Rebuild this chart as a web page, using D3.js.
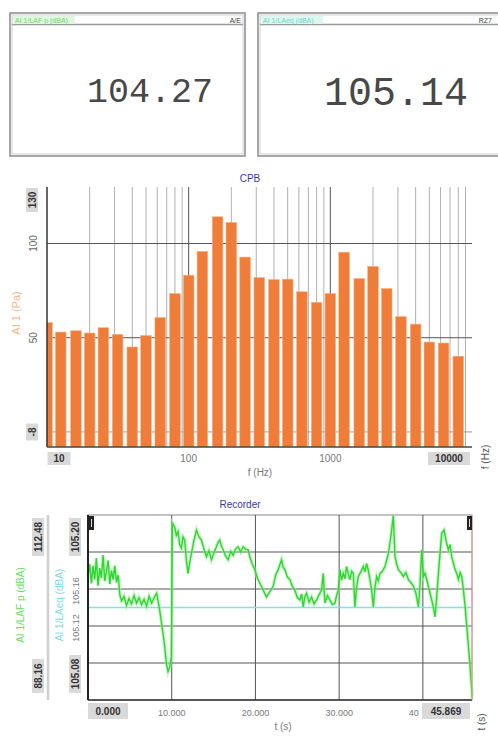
<!DOCTYPE html>
<html>
<head>
<meta charset="utf-8">
<script src="https://cdn.jsdelivr.net/npm/d3@7"></script>
<style>
  body { margin: 0; background: #fff; }
  svg { display: block; font-family: "Liberation Sans", Arial, sans-serif; }
</style>
</head>
<body>
<div id="chart"></div>
<script>
// meter readouts
const meterLabels = ['AI 1/LAF p (dBA)', 'AI 1/LAeq (dBA)'];
const meterTags = ['A/E', 'RZ7'];
const meterValues = ['104.27', '105.14'];

// CPB spectrum, 1/3 octave bands
const bandCenters = [10, 12.5, 16, 20, 25, 31.5, 40, 50, 63, 80, 100, 125, 160, 200, 250, 315,
  400, 500, 630, 800, 1000, 1250, 1600, 2000, 2500, 3150, 4000, 5000, 6300, 8000];
const bandLevels = [58, 53, 53.7, 52.5, 55.3, 51.8, 45.1, 51.2, 60.7, 73.5, 83.2, 95.8, 114.2, 111.2, 92.8, 81.9,
  80.9, 81.1, 74.4, 68.8, 73.5, 95.4, 81.4, 87.9, 76.1, 61.2, 57.2, 47.7, 47.2, 40.2];
const cpbYTicks = [100, 50];
const cpbXTicks = [100, 1000];

// recorder trace
const recTime = [0.0, 0.2, 0.4, 0.6, 0.8, 1.0, 1.2, 1.4, 1.6, 1.8, 2.0, 2.2, 2.4, 2.6, 2.8, 3.0, 3.2, 3.4, 3.6,
  3.8, 4.0, 4.3, 4.6, 4.9, 5.2, 5.5, 5.8, 6.1, 6.4, 6.7, 7.0, 7.3, 7.6, 7.9, 8.2,
  8.56, 8.96, 9.16, 9.36, 9.56, 9.76, 9.96, 10.08, 10.36, 10.55, 10.76, 10.95, 11.15, 11.35, 11.55, 11.75,
  11.95, 12.15, 12.35, 12.65, 12.95, 13.25, 13.55, 13.85, 14.15, 14.45, 14.74, 15.04, 15.34, 15.54, 15.74,
  15.94, 16.14, 16.44, 16.74, 17.04, 17.33, 17.63, 17.93, 18.23, 18.53, 18.83, 19.13, 19.33, 19.63, 19.93,
  20.23, 20.53, 20.93, 21.32, 21.72, 22.12, 22.42, 22.72, 23.12, 23.32, 23.52, 23.82, 24.11, 24.41, 24.71,
  25.01, 25.31, 25.51, 25.71, 25.91, 26.11, 26.41, 26.71, 27.0, 27.3, 27.6, 27.9, 28.1, 28.3, 28.6, 28.9,
  29.2, 29.5, 29.7, 29.9, 30.1, 30.29, 30.49, 30.69, 30.89, 31.09, 31.29, 31.49, 31.69, 31.89, 32.09, 32.29,
  32.59, 32.89, 33.08, 33.28, 33.48, 33.68, 33.88, 34.08, 34.28, 34.48, 34.68, 34.88, 35.18, 35.48, 35.68,
  35.88, 36.07, 36.27, 36.47, 36.67, 36.87, 37.07, 37.37, 37.67, 37.97, 38.27, 38.57, 38.87, 39.17, 39.47,
  39.67, 39.86, 40.06, 40.26, 40.46, 40.76, 41.06, 41.26, 41.46, 41.66, 41.86, 42.06, 42.26, 42.53, 42.79,
  43.05, 43.25, 43.45, 43.65, 43.85, 44.05, 44.25, 44.45, 44.65, 44.85, 45.05, 45.25, 45.45, 45.65, 45.84, 45.869];
const recLAF = [104.5, 106.0, 103.5, 105.8, 104.0, 106.8, 103.2, 105.5, 104.2, 107.2, 103.8, 105.0, 106.5, 103.4, 105.2, 104.0, 105.8, 103.6, 104.6,
  102.0, 101.2, 101.8, 100.6, 101.5, 100.8, 101.9, 100.9, 101.6, 100.7, 101.4, 100.5, 101.8, 100.9, 101.6, 102.2,
  100.0, 96.9, 95.2, 93.0, 91.9, 92.5, 93.9, 111.4, 110.9, 109.8, 110.3, 108.6, 108.1, 109.6, 109.2, 106.5,
  104.8, 106.2, 107.4, 109.1, 110.5, 109.6, 109.2, 108.0, 107.0, 107.8, 106.6, 107.5, 108.3, 108.9, 109.2,
  108.4, 107.9, 107.1, 106.6, 107.7, 107.2, 108.0, 108.3, 107.6, 108.3, 108.0, 107.9, 107.0, 106.0, 105.3,
  104.2, 103.5, 102.6, 101.7, 102.4, 103.1, 104.6, 105.3, 106.6, 105.6, 105.3, 104.3, 104.0, 103.1, 102.6,
  101.6, 101.3, 102.1, 100.4, 101.8, 102.2, 101.0, 101.7, 100.8, 101.3, 102.0, 102.6, 104.8, 100.9, 101.9, 101.3,
  100.7, 100.9, 101.9, 102.6, 105.3, 103.9, 104.8, 104.1, 105.7, 104.7, 104.0, 105.1, 104.8, 100.4, 103.0, 104.4,
  105.0, 105.7, 105.0, 106.1, 105.2, 104.0, 102.6, 100.4, 103.0, 104.4, 103.8, 104.8, 105.1, 105.7, 106.6,
  107.4, 108.8, 110.5, 112.4, 107.0, 106.0, 105.3, 104.9, 104.4, 104.9, 104.0, 103.6, 103.1, 102.2, 100.4,
  103.5, 107.9, 104.4, 104.8, 104.0, 102.6, 101.3, 100.3, 99.1, 101.8, 104.8, 107.6, 110.1, 110.5, 109.0,
  107.9, 108.6, 107.0, 106.1, 105.3, 104.8, 104.0, 104.9, 104.4, 102.6, 100.4, 97.8, 95.2, 92.4, 89.5, 88.5];
const recLeq = 105.14;
const recGrid = [105.104, 105.128, 105.152, 105.176];
const recCyanTicks = [105.152, 105.128];
const recCyanTickText = ['105.16', '105.12'];
const recXTicks = [10, 20, 30, 40];
const recXTickText = ['10.000', '20.000', '30.000', '40'];

const W = 498, H = 742;
const svg = d3.select('#chart').append('svg').attr('width', W).attr('height', H);

// boxed limit label, optionally rotated
function boxLabel(g, x, y, txt, w, h, rot) {
  const b = g.append('g').attr('transform', `translate(${x},${y})` + (rot ? ' rotate(-90)' : ''));
  b.append('rect').attr('x', -w / 2).attr('y', -h / 2).attr('width', w).attr('height', h).attr('fill', '#d9d9d9');
  b.append('text').attr('text-anchor', 'middle').attr('dy', '0.35em')
    .attr('font-size', 10).attr('font-weight', 'bold').attr('fill', '#333').text(txt);
}
function rotLabel(g, x, y, txt, size, color, ang) {
  g.append('text').attr('transform', `translate(${x},${y}) rotate(${ang || -90})`)
    .attr('text-anchor', 'middle').attr('dy', '0.35em')
    .attr('font-size', size).attr('fill', color).text(txt);
}

// ---------- meters ----------
const meters = [
  {x: 10, w: 235, color: '#6fd86f', bg: '#dff7df'},
  {x: 258, w: 245, color: '#6fd8c8', bg: '#ddf6f2'}
];
meters.forEach((m, i) => {
  const g = svg.append('g');
  g.append('rect').attr('x', m.x).attr('y', 13).attr('width', m.w).attr('height', 143)
    .attr('fill', '#fff').attr('stroke', '#8a8a8a').attr('stroke-width', 1.5);
  g.append('rect').attr('x', m.x + 2).attr('y', 15).attr('width', m.w - 4).attr('height', 139)
    .attr('fill', 'none').attr('stroke', '#d0d0d0');
  g.append('line').attr('x1', m.x + 2).attr('x2', m.x + m.w - 2).attr('y1', 24.5).attr('y2', 24.5)
    .attr('stroke', '#999').attr('stroke-width', 1.5);
  g.append('rect').attr('x', m.x + 3).attr('y', 16).attr('width', 62).attr('height', 8).attr('fill', m.bg);
  g.append('text').attr('x', m.x + 5).attr('y', 22.5).attr('font-size', 7).attr('fill', m.color).text(meterLabels[i]);
  g.append('text').attr('x', i === 0 ? m.x + m.w - 4 : 492).attr('y', 22.5).attr('text-anchor', 'end')
    .attr('font-size', 7).attr('fill', '#444').text(meterTags[i]);
  g.append('text').attr('x', i === 0 ? 213 : 468).attr('y', i === 0 ? 102 : 105)
    .attr('text-anchor', 'end').attr('font-family', '"Liberation Mono", "DejaVu Sans Mono", monospace')
    .attr('font-size', i === 0 ? 35 : 40).attr('fill', '#484848').text(meterValues[i]);
});

// ---------- CPB ----------
const cpb = {left: 47, right: 472, top: 187, bottom: 447};
const xf = d3.scaleLog().domain([10, 10000]).range([cpb.left, cpb.right]);
const ya = d3.scaleLinear().domain([-8, 130]).range([cpb.bottom, cpb.top]);
const gc = svg.append('g');

svg.append('defs').append('clipPath').attr('id', 'cpbclip')
  .append('rect').attr('x', cpb.left).attr('y', cpb.top).attr('width', cpb.right - cpb.left).attr('height', cpb.bottom - cpb.top);

// vertical grid (log minors + decades)
const minorF = [];
[10, 100, 1000].forEach(d => { for (let k = 2; k <= 9; k++) minorF.push(d * k); });
gc.selectAll('.vminor').data(minorF).enter().append('line')
  .attr('x1', d => xf(d)).attr('x2', d => xf(d)).attr('y1', cpb.top).attr('y2', cpb.bottom)
  .attr('stroke', '#b0b0b0').attr('stroke-width', 1);
gc.selectAll('.vmajor').data(cpbXTicks).enter().append('line')
  .attr('x1', d => xf(d)).attr('x2', d => xf(d)).attr('y1', cpb.top).attr('y2', cpb.bottom)
  .attr('stroke', '#555').attr('stroke-width', 1);
gc.selectAll('.hgrid').data(cpbYTicks).enter().append('line')
  .attr('x1', cpb.left).attr('x2', cpb.right).attr('y1', d => ya(d)).attr('y2', d => ya(d))
  .attr('stroke', '#555').attr('stroke-width', 1);
gc.append('line').attr('x1', cpb.left).attr('x2', cpb.right).attr('y1', ya(0)).attr('y2', ya(0))
  .attr('stroke', '#999');

// bars
const third = Math.pow(2, 1 / 6);
gc.append('g').attr('clip-path', 'url(#cpbclip)')
  .selectAll('rect').data(bandCenters).enter().append('rect')
  .attr('x', d => xf(d / third) + 1.8)
  .attr('width', d => xf(d * third) - xf(d / third) - 3.6)
  .attr('y', (d, i) => ya(bandLevels[i]))
  .attr('height', (d, i) => ya(-8) - ya(bandLevels[i]))
  .attr('fill', '#f07c3a').attr('stroke', '#f7b27e').attr('stroke-width', 0.6);

// axes lines
gc.append('line').attr('x1', cpb.left).attr('x2', cpb.left).attr('y1', cpb.top).attr('y2', cpb.bottom)
  .attr('stroke', '#333').attr('stroke-width', 1.5);
gc.append('line').attr('x1', cpb.left).attr('x2', cpb.right).attr('y1', cpb.bottom).attr('y2', cpb.bottom)
  .attr('stroke', '#444').attr('stroke-width', 1.5);

gc.append('text').attr('x', 250).attr('y', 182).attr('text-anchor', 'middle')
  .attr('font-size', 10).attr('fill', '#3838a8').text('CPB');

// y tick labels
boxLabel(gc, 32, 200, '130', 24, 12, true);
boxLabel(gc, 32, 432, '-8', 17, 12, true);
cpbYTicks.forEach(v => rotLabel(gc, 33, ya(v), String(v), 10, '#666'));
rotLabel(gc, 16, 313, 'AI 1 (Pa)', 11, '#f3b98c');

// x tick labels
boxLabel(gc, 59, 458.5, '10', 23, 13);
boxLabel(gc, 449, 458.5, '10000', 42, 13);
cpbXTicks.forEach(v => gc.append('text').attr('x', xf(v)).attr('y', 462).attr('text-anchor', 'middle')
  .attr('font-size', 10).attr('fill', '#777').text(v));
gc.append('text').attr('x', 260).attr('y', 476).attr('text-anchor', 'middle')
  .attr('font-size', 10).attr('fill', '#777').text('f (Hz)');
rotLabel(gc, 485, 457, 'f (Hz)', 10, '#555');

// ---------- Recorder ----------
const rec = {left: 88, right: 472, top: 515, bottom: 700};
const xt = d3.scaleLinear().domain([0, 45.869]).range([rec.left, rec.right]);
const yg = d3.scaleLinear().domain([88.16, 112.48]).range([rec.bottom, rec.top]);
const yc = d3.scaleLinear().domain([105.08, 105.20]).range([rec.bottom, rec.top]);
const gr = svg.append('g');

gr.append('rect').attr('x', rec.left).attr('y', rec.top).attr('width', rec.right - rec.left)
  .attr('height', rec.bottom - rec.top).attr('fill', '#fff').attr('stroke', '#888');
gr.selectAll('.hg').data(recGrid).enter().append('line')
  .attr('x1', rec.left).attr('x2', rec.right).attr('y1', d => yc(d)).attr('y2', d => yc(d))
  .attr('stroke', '#555');
gr.selectAll('.vg').data(recXTicks).enter().append('line')
  .attr('x1', d => xt(d)).attr('x2', d => xt(d)).attr('y1', rec.top).attr('y2', rec.bottom)
  .attr('stroke', '#555');

// Leq line
gr.append('line').attr('x1', rec.left).attr('x2', rec.right).attr('y1', yc(recLeq)).attr('y2', yc(recLeq))
  .attr('stroke', '#7fe3e0').attr('stroke-width', 1.5);

// LAF trace
const lineGen = d3.line().x((d, i) => xt(recTime[i])).y(d => yg(d));
gr.append('path').datum(recLAF).attr('d', lineGen).attr('fill', 'none')
  .attr('stroke', '#9cf09c').attr('stroke-width', 3.5).attr('opacity', 0.6);
gr.append('path').datum(recLAF).attr('d', lineGen).attr('fill', 'none')
  .attr('stroke', '#2fd62f').attr('stroke-width', 1.4);

// borders
gr.append('line').attr('x1', rec.left).attr('x2', rec.left).attr('y1', rec.top).attr('y2', rec.bottom)
  .attr('stroke', '#222').attr('stroke-width', 2);
gr.append('line').attr('x1', rec.left).attr('x2', rec.right).attr('y1', rec.bottom).attr('y2', rec.bottom)
  .attr('stroke', '#333').attr('stroke-width', 1.5);
gr.append('line').attr('x1', rec.right).attr('x2', rec.right).attr('y1', rec.top).attr('y2', rec.bottom)
  .attr('stroke', '#f0a0a0').attr('stroke-width', 1);

// cursor icons
[[rec.left + 1, 516], [rec.right - 5, 516]].forEach(p => {
  gr.append('rect').attr('x', p[0]).attr('y', p[1]).attr('width', 5).attr('height', 14).attr('fill', '#222');
  gr.append('line').attr('x1', p[0] + 2.5).attr('x2', p[0] + 2.5).attr('y1', p[1] + 3).attr('y2', p[1] + 11)
    .attr('stroke', '#ddd').attr('stroke-width', 1);
});

gr.append('text').attr('x', 240).attr('y', 508).attr('text-anchor', 'middle')
  .attr('font-size', 10).attr('fill', '#3838a8').text('Recorder');

// left axes
gr.append('line').attr('x1', 48).attr('x2', 48).attr('y1', rec.top).attr('y2', rec.bottom)
  .attr('stroke', '#cfcfcf').attr('stroke-width', 2.5);
boxLabel(gr, 38, 537, '112.48', 38, 12, true);
boxLabel(gr, 38, 676, '88.16', 34, 12, true);
rotLabel(gr, 20, 605, 'AI 1/LAF p (dBA)', 10, '#66e066');
rotLabel(gr, 59, 605, 'AI 1/LAeq (dBA)', 10, '#80dcdc');
boxLabel(gr, 75, 537, '105.20', 38, 12, true);
boxLabel(gr, 75, 674, '105.08', 38, 12, true);
recCyanTicks.forEach((v, i) => rotLabel(gr, 76, yc(v) + 2, recCyanTickText[i], 9, '#777'));

// x labels
recXTicks.forEach((v, i) => gr.append('text').attr('x', i === 3 ? xt(v) - 4 : xt(v)).attr('y', 716)
  .attr('text-anchor', i === 3 ? 'end' : 'middle')
  .attr('font-size', 9).attr('fill', '#777').text(recXTickText[i]));
boxLabel(gr, 108, 711, '0.000', 40, 16);
boxLabel(gr, 446, 711, '45.869', 48, 16);
gr.append('text').attr('x', 283).attr('y', 730).attr('text-anchor', 'middle')
  .attr('font-size', 10).attr('fill', '#777').text('t (s)');
rotLabel(gr, 481, 722, 't (s)', 10, '#555');
</script>
</body>
</html>
